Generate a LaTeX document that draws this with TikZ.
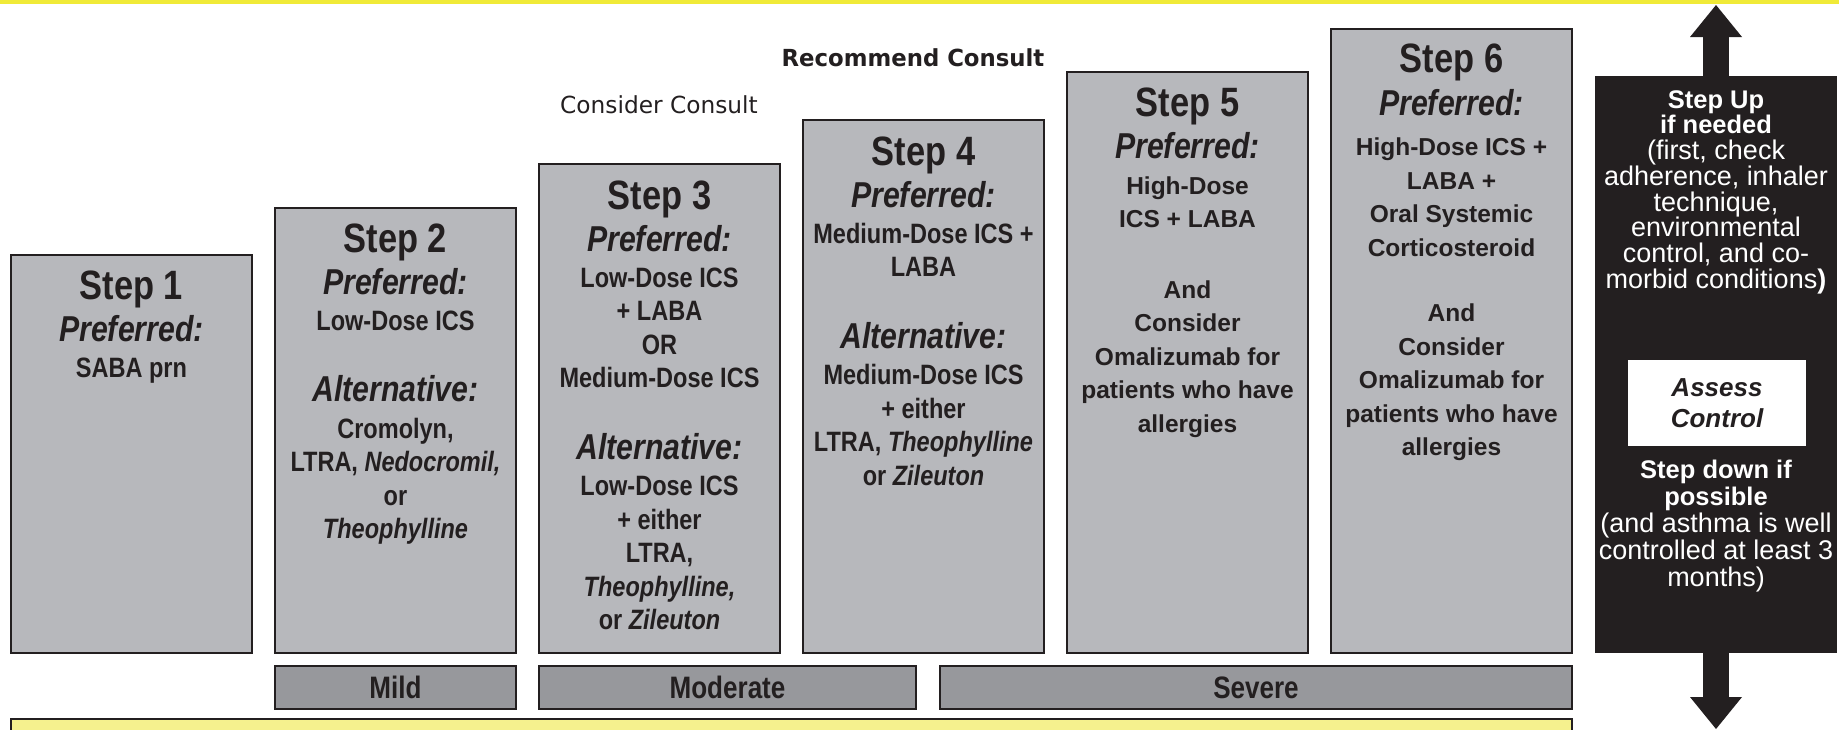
\documentclass[tikz,border=0pt]{standalone}
\usepackage{fontspec}
\setmainfont{Liberation Sans}
\newfontfamily\cnd[FakeStretch=0.84]{Liberation Sans}
\newfontfamily\consultb[FakeStretch=0.97]{DejaVu Sans}
\newfontfamily\consultr[FakeStretch=0.99]{DejaVu Sans}
\usetikzlibrary{arrows.meta}
\definecolor{ink}{HTML}{231F20}
\definecolor{boxgray}{RGB}{183,184,188}
\definecolor{sevgray}{RGB}{151,152,156}
\definecolor{topyellow}{RGB}{240,234,56}
\definecolor{paleyellow}{RGB}{245,241,142}
\newcommand\ttl[1]{{\cnd\bfseries\fontsize{41}{41}\selectfont\rule{0pt}{32pt}#1}}
\newcommand\prf[1]{{\cnd\bfseries\itshape\fontsize{36}{36}\selectfont #1}}
\newcommand\bbb[1]{{\bfseries\fontsize{25.5}{25.5}\selectfont #1}}
\tikzset{
  stepbox/.style={draw=ink, line width=2pt, fill=boxgray, minimum width=241pt,
    inner sep=0pt, outer sep=0pt, anchor=north west},
  sevbox/.style={draw=ink, line width=2pt, fill=sevgray, minimum height=43pt,
    inner sep=0pt, outer sep=0pt, anchor=north west, text=ink,
    font=\cnd\bfseries\fontsize{31}{31}\selectfont},
  steptext/.style={anchor=north, inner sep=0pt, align=center, text=ink,
    font=\cnd\bfseries\fontsize{28}{33.5}\selectfont},
  widetext/.style={anchor=north, inner sep=0pt, align=center, text=ink,
    font=\bfseries\fontsize{24.5}{33.5}\selectfont},
  bbtext/.style={anchor=north, inner sep=0pt, align=center, text=white,
    font=\fontsize{27}{25.7}\selectfont},
  bigarrow/.style={draw=ink, line width=26pt,
    -{Triangle[width=52pt,length=32pt,line width=0pt]}},
}
\begin{document}
\lineskiplimit=-1000pt
\lineskip=0pt
\begin{tikzpicture}[x=1pt,y=-1pt]
\useasboundingbox (0,0) rectangle (1839,729);
\fill[topyellow] (0,0) rectangle (1839,3.5);

% consult labels
\node[anchor=base, inner sep=0pt, text=ink, font=\consultb\bfseries\fontsize{23.5}{28}\selectfont] (rec) at (913,66) {Recommend Consult};
\node[anchor=base, inner sep=0pt, text=ink, font=\consultr\fontsize{23.5}{28}\selectfont] (con) at (659,113) {Consider Consult};

% step boxes
\node[stepbox, minimum height=398pt] (s1) at (11,255) {};
\node[stepbox, minimum height=445pt] (s2) at (275,208) {};
\node[stepbox, minimum height=489pt] (s3) at (539,164) {};
\node[stepbox, minimum height=533pt] (s4) at (803,120) {};
\node[stepbox, minimum height=581pt] (s5) at (1067,72) {};
\node[stepbox, minimum height=624pt] (s6) at (1331,29) {};

\node[steptext] (t1) at (131.5,267.5) {\ttl{Step 1}\\[8.5pt]\prf{Preferred:}\\[2.5pt]SABA prn};
\node[steptext] (t2) at (395.5,220) {\ttl{Step 2}\\[8.5pt]\prf{Preferred:}\\[2.5pt]Low-Dose ICS\\[38pt]\prf{Alternative:}\\[3pt]Cromolyn,\\LTRA, \textit{Nedocromil,}\\or\\\textit{Theophylline}};
\node[steptext] (t3) at (659.5,177) {\ttl{Step 3}\\[8.5pt]\prf{Preferred:}\\[2.5pt]Low-Dose ICS\\+ LABA\\OR\\Medium-Dose ICS\\[38pt]\prf{Alternative:}\\[3pt]Low-Dose ICS\\+ either\\LTRA,\\\textit{Theophylline,}\\or \textit{Zileuton}};
\node[steptext] (t4) at (923.5,133) {\ttl{Step 4}\\[8.5pt]\prf{Preferred:}\\[2.5pt]Medium-Dose ICS +\\LABA\\[38pt]\prf{Alternative:}\\[3pt]Medium-Dose ICS\\+ either\\LTRA, \textit{Theophylline}\\or \textit{Zileuton}};
\node[widetext] (t5) at (1187.5,84) {\ttl{Step 5}\\[9pt]\prf{Preferred:}\\[2pt]High-Dose\\ICS + LABA\\[37pt]And\\Consider\\Omalizumab for\\patients who have\\allergies};
\node[widetext] (t6) at (1451.5,40.5) {\ttl{Step 6}\\[9pt]\prf{Preferred:}\\[7pt]High-Dose ICS +\\LABA +\\Oral Systemic\\Corticosteroid\\[32pt]And\\Consider\\Omalizumab for\\patients who have\\allergies};

% severity
\node[sevbox, minimum width=241pt] (mild) at (275,666) {Mild};
\node[sevbox, minimum width=377pt] (mod) at (539,666) {Moderate};
\node[sevbox, minimum width=632pt] (sev) at (940,666) {Severe};

% bottom yellow band
\begin{scope}
\clip (0,0) rectangle (1839,729);
\draw[draw=ink, line width=2pt, fill=paleyellow] (11,719) rectangle (1572,745);
\end{scope}

% black control box
\node[fill=ink, minimum width=242pt, minimum height=577pt, inner sep=0pt, outer sep=0pt, anchor=north west] (bb) at (1595,76) {};
\coordinate (uptip) at (1716,5);
\coordinate (downtip) at (1716,729);
\draw[bigarrow] (bb.north) -- (uptip);
\draw[bigarrow] (bb.south) -- (downtip);

\node[bbtext] (upt) at (1716,86) {\bbb{\rule{0pt}{22pt}Step Up}\\\bbb{if needed}\\(first, check\\adherence, inhaler\\technique,\\environmental\\control, and co-\\morbid conditions\textbf{)}};
\node[fill=white, minimum width=178pt, minimum height=86pt, inner sep=0pt, align=center, text=ink,
  font=\bfseries\itshape\fontsize{26}{30.5}\selectfont] (ac) at (1717,403) {Assess\\Control};
\node[bbtext, font=\fontsize{27}{27}\selectfont] (dnt) at (1716,456) {\bbb{\rule{0pt}{22pt}Step down if}\\\bbb{possible}\\(and asthma is well\\controlled at least 3\\months)};
\end{tikzpicture}
\end{document}
